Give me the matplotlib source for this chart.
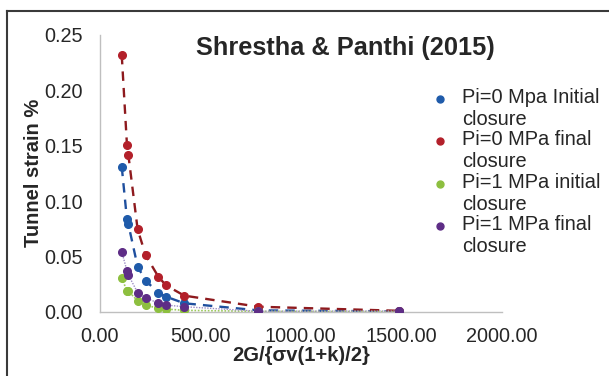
import matplotlib
matplotlib.use("Agg")
import matplotlib.pyplot as plt
from matplotlib.lines import Line2D
from matplotlib.ticker import FormatStrFormatter

plt.rcParams['font.family'] = ['Liberation Sans', 'DejaVu Sans']

# stiffness ratio 2G/{sigma_v(1+k)/2}
ratio = [110, 136, 143, 189, 229, 292, 330, 421, 789, 1490]

# tunnel strain (%)
pi0_initial = [0.131, 0.0835, 0.079, 0.0407, 0.028, 0.0172, 0.0136, 0.0076, 0.0012, 0.0003]
pi0_final = [0.232, 0.1507, 0.1416, 0.0744, 0.051, 0.0316, 0.0238, 0.0145, 0.0045, 0.0008]
pi1_initial = [0.0302, 0.019, 0.0185, 0.0099, 0.006, 0.003, 0.0024, 0.0012, 0.0003, 0.0001]
pi1_final = [0.0542, 0.037, 0.0332, 0.0172, 0.0127, 0.0076, 0.006, 0.0045, 0.0004, 0.0006]

labels = ['Pi=0 Mpa Initial\nclosure', 'Pi=0 MPa final\nclosure',
          'Pi=1 MPa initial\nclosure', 'Pi=1 MPa final\nclosure']
series = [pi0_initial, pi0_final, pi1_initial, pi1_final]
marker_colors = ['#1F5BAA', '#B3202A', '#8DBF3F', '#5E2D86']
line_colors = ['#1F4F9E', '#8E1A1E', '#9CC95A', '#9C8CC4']
line_styles = [(0, (4, 3)), (0, (4, 3)), (0, (1, 1)), (0, (1, 1))]
line_widths = [1.7, 1.7, 1.2, 1.0]

text_color = '#262626'
W, H = 609, 376

fig = plt.figure(figsize=(W / 100, H / 100), dpi=100)
ax = fig.add_axes([99.6 / W, 1 - 311.7 / H, (502 - 99.6) / W, (311.7 - 35) / H])

for ys, mc, lc, ls, lw in zip(series, marker_colors, line_colors, line_styles, line_widths):
    ax.plot(ratio, ys, color=lc, linestyle=ls, linewidth=lw, zorder=2)
    ax.plot(ratio, ys, linestyle='none', marker='o', markersize=5.5,
            markerfacecolor=mc, markeredgecolor=mc, zorder=3)

ax.set_xlim(0, 2000)
ax.set_ylim(0, 0.25)
ax.set_xticks([0, 500, 1000, 1500, 2000])
ax.set_yticks([0, 0.05, 0.10, 0.15, 0.20, 0.25])
ax.xaxis.set_major_formatter(FormatStrFormatter('%.2f'))
ax.yaxis.set_major_formatter(FormatStrFormatter('%.2f'))
ax.tick_params(length=0, labelsize=14.3, labelcolor=text_color)
ax.tick_params(axis='x', pad=11)
ax.tick_params(axis='y', pad=12)

for side in ['top', 'right']:
    ax.spines[side].set_visible(False)
for side in ['left', 'bottom']:
    ax.spines[side].set_color('#BFBFBF')
    ax.spines[side].set_linewidth(1.0)

ax.set_xlabel('2G/{σv(1+k)/2}', fontsize=14.5, fontweight='bold', color=text_color, labelpad=0)
ax.set_ylabel('Tunnel strain %', fontsize=14.5, fontweight='bold', color=text_color, labelpad=1)

fig.text(345 / W, 1 - 48 / H, 'Shrestha & Panthi (2015)', fontsize=18.3, fontweight='bold',
         color=text_color, ha='center', va='center')

# legend: marker lined up with the first line of each wrapped label
for i, (lab, mc) in enumerate(zip(labels, marker_colors)):
    y_px = 99 + i * 42.3
    fig.add_artist(Line2D([440 / W], [1 - y_px / H], marker='o', markersize=5, linestyle='none',
                          markerfacecolor=mc, markeredgecolor=mc, transform=fig.transFigure))
    fig.text(462 / W, 1 - (y_px - 11) / H, lab, fontsize=14.4, color=text_color,
             ha='left', va='top', linespacing=1.2)

# outer frame (top and left edges visible)
fig.add_artist(Line2D([6.5 / W, 6.5 / W], [0, 1 - 11 / H], color='#3A3A3A',
                      linewidth=1.5, transform=fig.transFigure))
fig.add_artist(Line2D([6.5 / W, 1], [1 - 11 / H, 1 - 11 / H], color='#3A3A3A',
                      linewidth=1.5, transform=fig.transFigure))

fig.savefig('out.png', dpi=100)
